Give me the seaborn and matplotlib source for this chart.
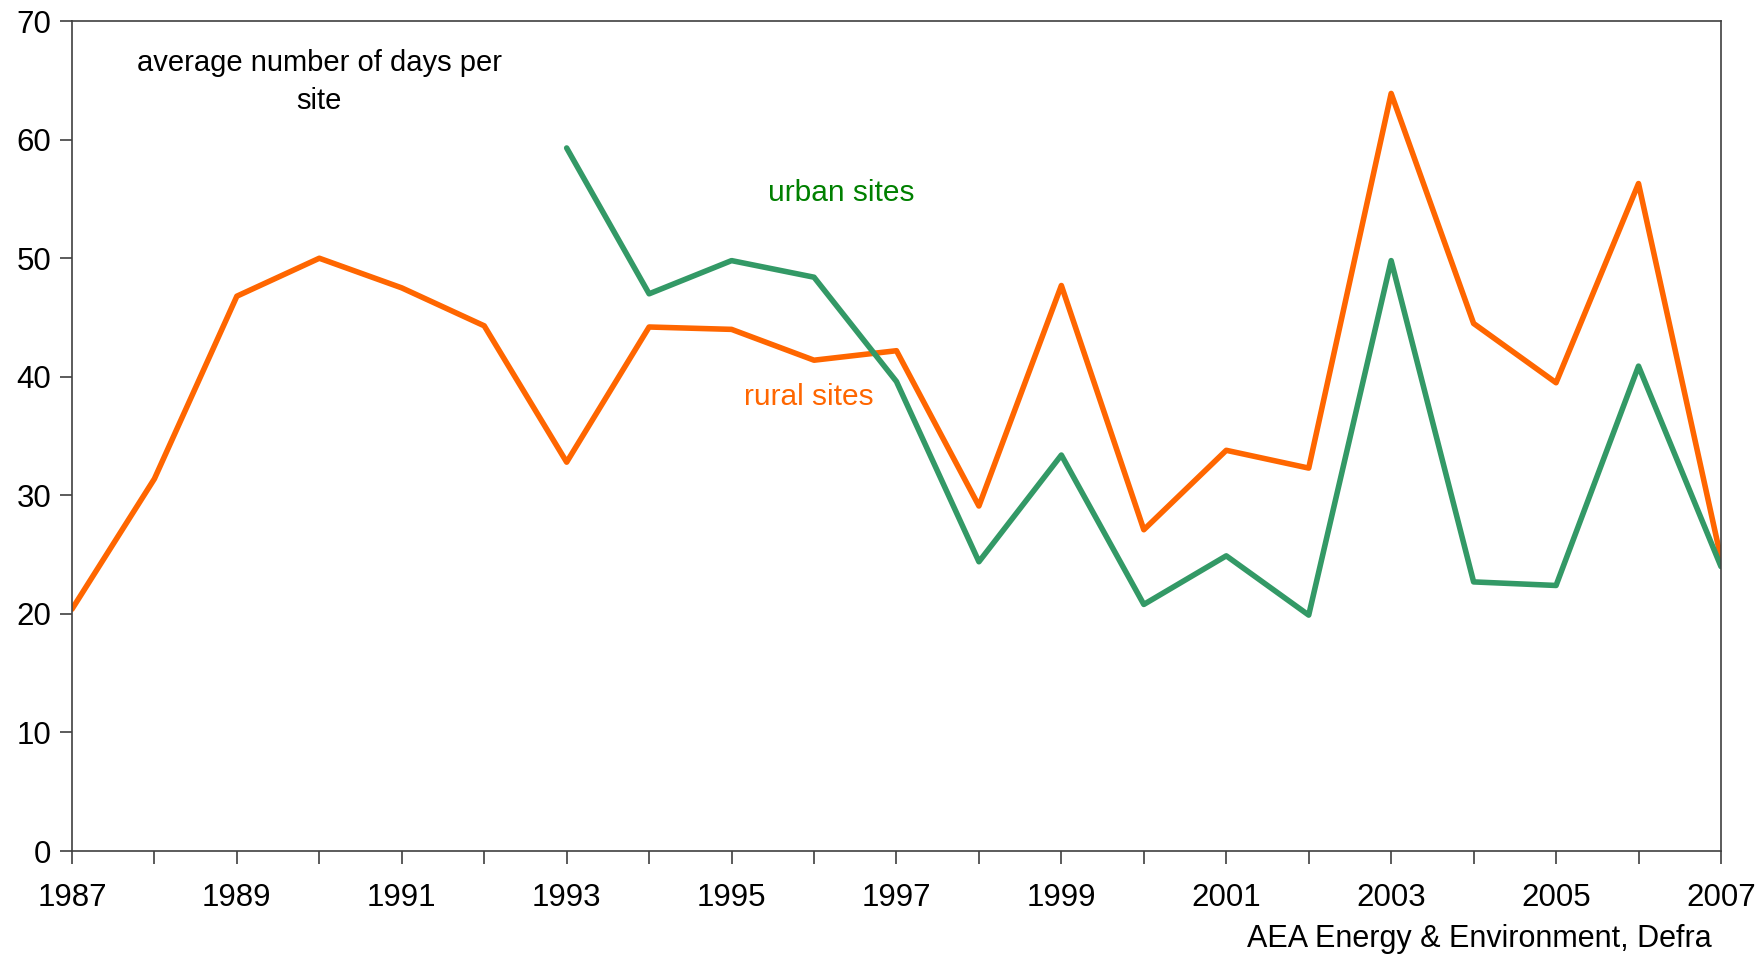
import pandas as pd
import matplotlib.pyplot as plt
import seaborn as sns

# Values
years = list(range(1987, 2008))
rural = [20.4, 31.4, 46.8, 50.0, 47.5, 44.3, 32.8, 44.2, 44.0, 41.4, 42.2,
         29.1, 47.7, 27.1, 33.8, 32.3, 63.9, 44.5, 39.5, 56.3, 24.7]
urban_years = list(range(1993, 2008))
urban = [59.3, 47.0, 49.8, 48.4, 39.6, 24.4, 33.4, 20.8, 24.9, 19.9,
         49.8, 22.7, 22.4, 40.9, 24.0]
year_ticks = list(range(1987, 2008, 2))
y_ticks = list(range(0, 71, 10))

rural_df = pd.DataFrame({'Year': years, 'Days': rural})
urban_df = pd.DataFrame({'Year': urban_years, 'Days': urban})

sns.set_style('white')
plt.rcParams['font.family'] = ['Liberation Sans', 'DejaVu Sans']

fig = plt.figure(figsize=(17.64, 9.6), dpi=100)
ax = fig.add_axes([0.0408, 0.1135, 0.9348, 0.8645])

sns.lineplot(data=rural_df, x='Year', y='Days', color='#FF6600', linewidth=4, ax=ax)
sns.lineplot(data=urban_df, x='Year', y='Days', color='#339966', linewidth=4, ax=ax)

ax.set_xlim(1987, 2007)
ax.set_ylim(0, 70)
ax.set_xticks(year_ticks)
ax.set_xticks(years, minor=True)
ax.set_yticks(y_ticks)
ax.set_xlabel('')
ax.set_ylabel('')
ax.tick_params(axis='both', which='both', direction='out', color='#404040',
               labelsize=22.5, labelcolor='black', bottom=True, left=True)
ax.tick_params(axis='x', which='major', length=9, width=1.2, pad=14)
ax.tick_params(axis='x', which='minor', length=9, width=1.2)
ax.tick_params(axis='y', which='major', length=9, width=1.2, pad=6)
for s in ax.spines.values():
    s.set_color('#404040')
    s.set_linewidth(1.2)

# Annotations
ax.text(1990, 64.9, 'average number of days per\nsite', ha='center', va='center',
        fontsize=21, color='black', linespacing=1.45)
ax.text(1996.33, 55.5, 'urban sites', ha='center', va='center', fontsize=21.5, color='#008000')
ax.text(1995.94, 38.3, 'rural sites', ha='center', va='center', fontsize=21.5, color='#FF6600')

fig.text(0.9705, 0.006, 'AEA Energy & Environment, Defra', ha='right', va='bottom',
         fontsize=22, color='black')

plt.savefig('out.png', dpi=100)
